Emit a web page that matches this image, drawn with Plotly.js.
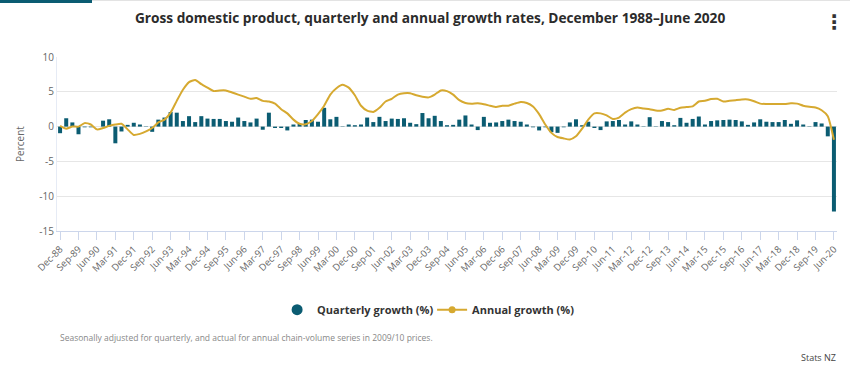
<!DOCTYPE html>
<html>
<head>
<meta charset="utf-8">
<script src="https://cdn.plot.ly/plotly-3.0.1.min.js"></script>
<style>
  html, body { margin: 0; padding: 0; background: #fff; }
  #wrap { position: relative; width: 850px; height: 374px; overflow: hidden; }
  #chart { width: 850px; height: 374px; }
  #topTeal { position: absolute; left: 0; top: 0; width: 92px; height: 3px; background: #0b5c72; }
  #topGray { position: absolute; left: 92px; top: 0; width: 758px; height: 1px; background: #e3e3e3; }
</style>
</head>
<body>
<div id="wrap">
  <div id="chart"></div>
  <div id="topTeal"></div>
  <div id="topGray"></div>
</div>
<script>
// Quarter labels Dec-88 ... Jun-20
const quarterNames = ['Mar', 'Jun', 'Sep', 'Dec'];
const categories = [];
for (let i = 0; i < 127; i++) {
  const q = (3 + i) % 4;
  const yr = 1988 + Math.floor((3 + i) / 4);
  categories.push(quarterNames[q] + '-' + String(yr % 100).padStart(2, '0'));
}
const tickLabels = categories.filter((c, i) => i % 3 === 0);

const quarterlyGrowth = [
  -0.95, 1.2, 0.6, -1.1, -0.1, -0.1, 0.0, 0.85, 1.05, -2.4,
  -0.7, 0.25, 0.55, 0.3, 0.05, -0.75, 1.0, 1.3, 2.1, 2.0,
  0.8, 1.5, 0.65, 1.5, 1.15, 1.1, 1.1, 0.8, 0.7, 1.3,
  0.8, 0.6, 1.15, -0.45, 2.0, -0.2, -0.2, -0.55, 0.3, 0.4,
  0.95, 1.0, 0.7, 2.7, 1.05, 1.4, 0.05, 0.3, 0.2, 0.3,
  1.3, 0.65, 1.4, 0.8, 1.15, 1.1, 1.2, 0.55, 0.35, 1.95,
  1.2, 1.55, 0.8, 0.2, 0.25, 1.0, 1.6, 0.3, -0.5, 1.4,
  0.55, 0.6, 0.8, 1.0, 0.8, 0.7, 0.3, -0.1, -0.55, -0.1,
  -0.8, -0.9, -0.1, 0.6, 1.05, 0.2, 0.7, -0.2, -0.5, 0.75,
  0.8, 0.95, 0.3, 0.75, 0.3, 0.05, 1.35, 0.05, 0.8, 0.65,
  0.2, 1.25, 0.55, 1.1, 1.45, 0.3, 0.8, 0.9, 0.95, 1.0,
  0.95, 0.75, 0.25, 0.6, 1.05, 0.7, 0.65, 0.65, 0.95, 0.4,
  0.9, 0.3, 0.05, 0.65, 0.45, -1.4, -12.2
];

const annualGrowth = [
  0.1, -0.3, 0.0, 0.0, 0.5, 0.3, -0.4, -0.2, 0.1, 0.3,
  0.4, -0.4, -1.2, -1.05, -0.7, -0.2, 0.6, 1.0, 2.0, 3.7,
  5.3, 6.4, 6.7, 6.1, 5.6, 5.1, 5.2, 5.2, 4.9, 4.6,
  4.3, 4.0, 4.1, 3.7, 3.6, 3.3, 2.5, 1.9, 1.0, 0.4,
  0.35, 0.8, 1.8, 3.0, 4.6, 5.5, 6.0, 5.6, 4.5, 3.0,
  2.3, 2.1, 2.7, 3.6, 4.0, 4.6, 4.8, 4.8, 4.5, 4.3,
  4.2, 4.6, 5.2, 5.1, 4.6, 3.8, 3.4, 3.3, 3.35, 3.2,
  3.0, 2.8, 3.0, 3.0, 3.3, 3.55, 3.4, 2.9, 1.8, 0.3,
  -0.9, -1.5, -1.7, -1.85, -1.4, -0.3, 1.0, 1.9, 1.9, 1.6,
  1.1, 1.3, 2.0, 2.5, 2.75, 2.6, 2.5, 2.3, 2.3, 2.55,
  2.4, 2.7, 2.8, 2.9, 3.6, 3.7, 3.95, 4.0, 3.6, 3.7,
  3.8, 3.9, 3.9, 3.65, 3.3, 3.25, 3.25, 3.25, 3.25, 3.35,
  3.3, 3.0, 2.85, 2.75, 2.35, 1.5, -1.9
];

const yTicks = [-15, -10, -5, 0, 5, 10];

const teal = '#0b5c72';
const gold = '#d6a930';
const fontFam = '"Open Sans", "DejaVu Sans", sans-serif';

const traces = [
  {
    type: 'bar', x: categories, y: quarterlyGrowth, name: 'Quarterly growth (%)',
    marker: { color: teal }, showlegend: false, hoverinfo: 'x+y'
  },
  {
    type: 'scatter', mode: 'lines', x: categories, y: annualGrowth, name: 'Annual growth (%)',
    line: { color: gold, width: 2, shape: 'spline', smoothing: 0.5 }, showlegend: false
  },
  {
    type: 'scatter', mode: 'markers', x: [null], y: [null], name: 'Quarterly growth (%)',
    marker: { color: teal, size: 11, symbol: 'circle' }, showlegend: true
  },
  {
    type: 'scatter', mode: 'lines+markers', x: [null], y: [null], name: 'Annual growth (%)',
    line: { color: gold, width: 2 }, marker: { color: gold, size: 7, symbol: 'circle' }, showlegend: true
  }
];

const layout = {
  width: 850, height: 374,
  margin: { l: 57, r: 13, t: 57, b: 143 },
  paper_bgcolor: '#ffffff', plot_bgcolor: '#ffffff',
  font: { family: fontFam, color: '#666666', size: 10 },
  bargap: 0.35,
  title: {
    text: '<b>Gross domestic product, quarterly and annual growth rates, December 1988–June 2020</b>',
    font: { family: fontFam, size: 13.7, color: '#2b2b2b' },
    x: 0.506, xanchor: 'center', xref: 'container',
    y: 0.952, yanchor: 'middle', yref: 'container'
  },
  xaxis: {
    type: 'category',
    tickmode: 'array', tickvals: tickLabels, ticktext: tickLabels,
    tickangle: -45,
    tickfont: { size: 9.5, color: '#666666', family: fontFam },
    ticks: 'outside', ticklen: 8, tickcolor: '#ccd6eb', tickwidth: 1,
    showline: true, linecolor: '#ccd6eb', linewidth: 1,
    showgrid: false, zeroline: false,
    automargin: false, fixedrange: true
  },
  yaxis: {
    range: [-15, 10],
    tickmode: 'array', tickvals: yTicks, ticktext: yTicks.map(String),
    tickfont: { size: 10, color: '#666666', family: fontFam },
    ticks: '', showline: true, linecolor: '#e6ebf5', linewidth: 1,
    showgrid: true, gridcolor: '#e6e6e6', gridwidth: 1,
    zeroline: true, zerolinecolor: '#e6e6e6', zerolinewidth: 1,
    title: { text: 'Percent', font: { size: 10, color: '#666666', family: fontFam }, standoff: 12 },
    automargin: false, fixedrange: true
  },
  legend: {
    orientation: 'h',
    x: 0.326, xanchor: 'left', xref: 'container',
    y: 0.172, yanchor: 'middle', yref: 'container',
    font: { size: 11, color: '#333333', family: fontFam, weight: 'bold' },
    itemwidth: 30, tracegroupgap: 0,
    entrywidthmode: 'pixels', entrywidth: 110,
    bgcolor: 'rgba(0,0,0,0)'
  },
  annotations: [
    {
      text: 'Seasonally adjusted for quarterly, and actual for annual chain-volume series in 2009/10 prices.',
      xref: 'paper', yref: 'paper', x: 0.001, xanchor: 'left',
      y: (231 - 337) / 174, yanchor: 'middle', showarrow: false,
      font: { size: 8.5, color: '#888888', family: fontFam }
    },
    {
      text: 'Stats NZ',
      xref: 'paper', yref: 'paper', x: (838 - 57) / 780, xanchor: 'right',
      y: (231 - 357) / 174, yanchor: 'middle', showarrow: false,
      font: { size: 9, color: '#444444', family: fontFam }
    },
    {
      text: '<b>⋮</b>',
      xref: 'paper', yref: 'paper', x: (834 - 57) / 780, xanchor: 'center',
      y: (231 - 22) / 174, yanchor: 'middle', showarrow: false,
      font: { size: 20, color: '#333333', family: 'DejaVu Sans' }
    }
  ]
};

Plotly.newPlot('chart', traces, layout, { displayModeBar: false, staticPlot: true });
</script>
</body>
</html>
